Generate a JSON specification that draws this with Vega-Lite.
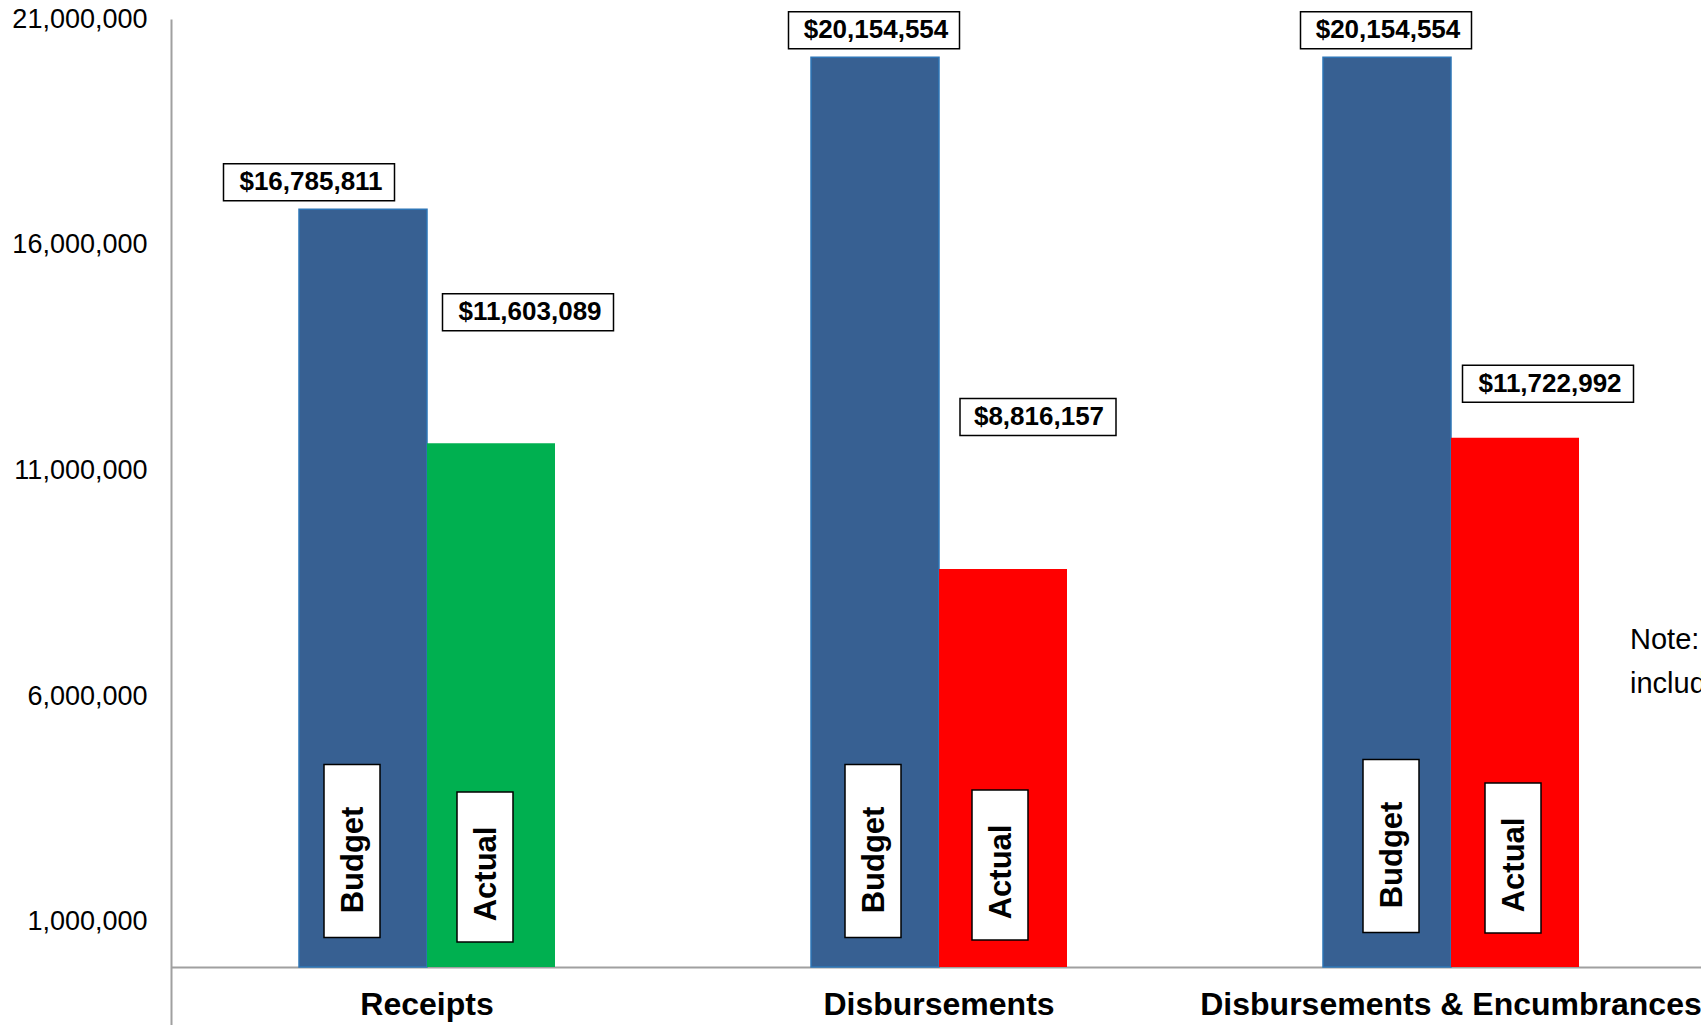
{
  "$schema": "https://vega.github.io/schema/vega-lite/v6.json",
  "autosize": {"type": "none"},
  "padding": {"left": 171, "top": 19, "right": 0, "bottom": 0},
  "width": 1530,
  "height": 1006,
  "background": "white",
  "config": {"view": {"stroke": null}, "font": "Liberation Sans"},
  "data": {"values": [
    {"cat": "Receipts", "series": "Budget", "value": 16785811},
    {"cat": "Receipts", "series": "Actual", "value": 11603089},
    {"cat": "Disbursements", "series": "Budget", "value": 20154554},
    {"cat": "Disbursements", "series": "Actual", "value": 8816157},
    {"cat": "Disbursements & Encumbrances", "series": "Budget", "value": 20154554},
    {"cat": "Disbursements & Encumbrances", "series": "Actual", "value": 11722992}
  ]},
  "encoding": {
    "x": {
      "field": "cat", "type": "nominal",
      "sort": ["Receipts", "Disbursements", "Disbursements & Encumbrances"],
      "scale": {"paddingInner": 0.5, "paddingOuter": 0.25, "range": [0, 1536]},
      "axis": {
        "title": null, "offset": -58, "domain": true, "domainColor": "#A0A0A0", "domainWidth": 2,
        "ticks": false, "tickSize": 0, "labelAngle": 0, "labelPadding": 22,
        "labelFont": "Liberation Sans", "labelFontSize": 32, "labelFontWeight": "bold",
        "labelColor": "black", "labelLimit": 800, "labelOverlap": false
      }
    },
    "y": {
      "field": "value", "type": "quantitative",
      "scale": {"domain": [-1286000, 21000000], "nice": false, "zero": false},
      "axis": {
        "title": null, "values": [1000000, 6000000, 11000000, 16000000, 21000000],
        "format": ",.0f", "grid": false, "ticks": false, "tickSize": 0, "labelPadding": 24,
        "domainColor": "#A0A0A0", "domainWidth": 2,
        "labelFont": "Liberation Sans", "labelFontSize": 27, "labelColor": "black", "labelOverlap": false
      }
    }
  },
  "layer": [
    {
      "mark": {"type": "bar"},
      "encoding": {
        "xOffset": {"field": "series", "type": "nominal", "sort": ["Budget", "Actual"]},
        "y2": {"datum": 0},
        "color": {
          "condition": [
            {"test": "datum.series == 'Budget'", "value": "#376092"},
            {"test": "datum.cat == 'Receipts'", "value": "#00B050"}
          ],
          "value": "#FF0000"
        },
        "stroke": {"condition": {"test": "datum.series == 'Budget'", "value": "#2E75B6"}, "value": "transparent"},
        "strokeWidth": {"condition": {"test": "datum.series == 'Budget'", "value": 1.5}, "value": 0}
      }
    },
    {
      "transform": [{"filter": "datum.series == 'Budget' && datum.cat == 'Receipts'"}],
      "encoding": {"y": {"datum": 0}},
      "layer": [
        {"mark": {"type": "point", "shape": "M-0.3237,-1L0.3237,-1L0.3237,1L-0.3237,1Z", "size": 29929, "filled": true, "fill": "white", "stroke": "black", "strokeWidth": 1.5, "opacity": 1, "xOffset": -75, "yOffset": -116}},
        {"mark": {"type": "text", "text": "Budget", "angle": 270, "align": "center", "baseline": "middle", "font": "Liberation Sans", "fontSize": 31, "fontWeight": "bold", "color": "black", "xOffset": -73, "yOffset": -107}}
      ]
    },
    {
      "transform": [{"filter": "datum.series == 'Budget' && datum.cat == 'Disbursements'"}],
      "encoding": {"y": {"datum": 0}},
      "layer": [
        {"mark": {"type": "point", "shape": "M-0.3237,-1L0.3237,-1L0.3237,1L-0.3237,1Z", "size": 29929, "filled": true, "fill": "white", "stroke": "black", "strokeWidth": 1.5, "opacity": 1, "xOffset": -66, "yOffset": -116}},
        {"mark": {"type": "text", "text": "Budget", "angle": 270, "align": "center", "baseline": "middle", "font": "Liberation Sans", "fontSize": 31, "fontWeight": "bold", "color": "black", "xOffset": -64, "yOffset": -107}}
      ]
    },
    {
      "transform": [{"filter": "datum.series == 'Budget' && datum.cat == 'Disbursements & Encumbrances'"}],
      "encoding": {"y": {"datum": 0}},
      "layer": [
        {"mark": {"type": "point", "shape": "M-0.3237,-1L0.3237,-1L0.3237,1L-0.3237,1Z", "size": 29929, "filled": true, "fill": "white", "stroke": "black", "strokeWidth": 1.5, "opacity": 1, "xOffset": -60, "yOffset": -121}},
        {"mark": {"type": "text", "text": "Budget", "angle": 270, "align": "center", "baseline": "middle", "font": "Liberation Sans", "fontSize": 31, "fontWeight": "bold", "color": "black", "xOffset": -58, "yOffset": -112}}
      ]
    },
    {
      "transform": [{"filter": "datum.series == 'Actual' && datum.cat == 'Receipts'"}],
      "encoding": {"y": {"datum": 0}},
      "layer": [
        {"mark": {"type": "point", "shape": "M-0.3733,-1L0.3733,-1L0.3733,1L-0.3733,1Z", "size": 22500, "filled": true, "fill": "white", "stroke": "black", "strokeWidth": 1.5, "opacity": 1, "xOffset": 58, "yOffset": -100}},
        {"mark": {"type": "text", "text": "Actual", "angle": 270, "align": "center", "baseline": "middle", "font": "Liberation Sans", "fontSize": 31, "fontWeight": "bold", "color": "black", "xOffset": 60, "yOffset": -93}}
      ]
    },
    {
      "transform": [{"filter": "datum.series == 'Actual' && datum.cat == 'Disbursements'"}],
      "encoding": {"y": {"datum": 0}},
      "layer": [
        {"mark": {"type": "point", "shape": "M-0.3733,-1L0.3733,-1L0.3733,1L-0.3733,1Z", "size": 22500, "filled": true, "fill": "white", "stroke": "black", "strokeWidth": 1.5, "opacity": 1, "xOffset": 61, "yOffset": -102}},
        {"mark": {"type": "text", "text": "Actual", "angle": 270, "align": "center", "baseline": "middle", "font": "Liberation Sans", "fontSize": 31, "fontWeight": "bold", "color": "black", "xOffset": 63, "yOffset": -95}}
      ]
    },
    {
      "transform": [{"filter": "datum.series == 'Actual' && datum.cat == 'Disbursements & Encumbrances'"}],
      "encoding": {"y": {"datum": 0}},
      "layer": [
        {"mark": {"type": "point", "shape": "M-0.3733,-1L0.3733,-1L0.3733,1L-0.3733,1Z", "size": 22500, "filled": true, "fill": "white", "stroke": "black", "strokeWidth": 1.5, "opacity": 1, "xOffset": 62, "yOffset": -109}},
        {"mark": {"type": "text", "text": "Actual", "angle": 270, "align": "center", "baseline": "middle", "font": "Liberation Sans", "fontSize": 31, "fontWeight": "bold", "color": "black", "xOffset": 64, "yOffset": -102}}
      ]
    },
    {
      "transform": [{"filter": "datum.cat == 'Receipts' && datum.series == 'Budget'"}],
      "encoding": {"text": {"field": "value", "type": "quantitative", "format": "$,.0f"}},
      "layer": [
        {"mark": {"type": "point", "shape": "M-1,-0.2164L1,-0.2164L1,0.2164L-1,0.2164Z", "size": 29241, "filled": true, "fill": "white", "stroke": "black", "strokeWidth": 1.5, "opacity": 1, "xOffset": -118, "yOffset": -27}},
        {"mark": {"type": "text", "align": "center", "baseline": "middle", "font": "Liberation Sans", "fontSize": 26, "fontWeight": "bold", "color": "black", "xOffset": -116, "yOffset": -27}}
      ]
    },
    {
      "transform": [{"filter": "datum.cat == 'Receipts' && datum.series == 'Actual'"}],
      "encoding": {"text": {"field": "value", "type": "quantitative", "format": "$,.0f"}},
      "layer": [
        {"mark": {"type": "point", "shape": "M-1,-0.2164L1,-0.2164L1,0.2164L-1,0.2164Z", "size": 29241, "filled": true, "fill": "white", "stroke": "black", "strokeWidth": 1.5, "opacity": 1, "xOffset": 101, "yOffset": -131}},
        {"mark": {"type": "text", "align": "center", "baseline": "middle", "font": "Liberation Sans", "fontSize": 26, "fontWeight": "bold", "color": "black", "xOffset": 103, "yOffset": -131}}
      ]
    },
    {
      "transform": [{"filter": "datum.cat == 'Disbursements' && datum.series == 'Budget'"}],
      "encoding": {"text": {"field": "value", "type": "quantitative", "format": "$,.0f"}},
      "layer": [
        {"mark": {"type": "point", "shape": "M-1,-0.2164L1,-0.2164L1,0.2164L-1,0.2164Z", "size": 29241, "filled": true, "fill": "white", "stroke": "black", "strokeWidth": 1.5, "opacity": 1, "xOffset": -65, "yOffset": -27}},
        {"mark": {"type": "text", "align": "center", "baseline": "middle", "font": "Liberation Sans", "fontSize": 26, "fontWeight": "bold", "color": "black", "xOffset": -63, "yOffset": -27}}
      ]
    },
    {
      "transform": [{"filter": "datum.cat == 'Disbursements' && datum.series == 'Actual'"}],
      "encoding": {"text": {"field": "value", "type": "quantitative", "format": "$,.0f"}},
      "layer": [
        {"mark": {"type": "point", "shape": "M-1,-0.2372L1,-0.2372L1,0.2372L-1,0.2372Z", "size": 24336, "filled": true, "fill": "white", "stroke": "black", "strokeWidth": 1.5, "opacity": 1, "xOffset": 99, "yOffset": -152}},
        {"mark": {"type": "text", "align": "center", "baseline": "middle", "font": "Liberation Sans", "fontSize": 26, "fontWeight": "bold", "color": "black", "xOffset": 100, "yOffset": -152}}
      ]
    },
    {
      "transform": [{"filter": "datum.cat == 'Disbursements & Encumbrances' && datum.series == 'Budget'"}],
      "encoding": {"text": {"field": "value", "type": "quantitative", "format": "$,.0f"}},
      "layer": [
        {"mark": {"type": "point", "shape": "M-1,-0.2164L1,-0.2164L1,0.2164L-1,0.2164Z", "size": 29241, "filled": true, "fill": "white", "stroke": "black", "strokeWidth": 1.5, "opacity": 1, "xOffset": -65, "yOffset": -27}},
        {"mark": {"type": "text", "align": "center", "baseline": "middle", "font": "Liberation Sans", "fontSize": 26, "fontWeight": "bold", "color": "black", "xOffset": -63, "yOffset": -27}}
      ]
    },
    {
      "transform": [{"filter": "datum.cat == 'Disbursements & Encumbrances' && datum.series == 'Actual'"}],
      "encoding": {"text": {"field": "value", "type": "quantitative", "format": "$,.0f"}},
      "layer": [
        {"mark": {"type": "point", "shape": "M-1,-0.2164L1,-0.2164L1,0.2164L-1,0.2164Z", "size": 29241, "filled": true, "fill": "white", "stroke": "black", "strokeWidth": 1.5, "opacity": 1, "xOffset": 97, "yOffset": -54}},
        {"mark": {"type": "text", "align": "center", "baseline": "middle", "font": "Liberation Sans", "fontSize": 26, "fontWeight": "bold", "color": "black", "xOffset": 99, "yOffset": -54}}
      ]
    },
    {
      "transform": [{"filter": "datum.cat == 'Disbursements & Encumbrances' && datum.series == 'Budget'"}],
      "mark": {"type": "text", "align": "left", "baseline": "alphabetic", "font": "Liberation Sans", "fontSize": 29, "color": "black", "lineHeight": 44, "xOffset": 179, "yOffset": -2},
      "encoding": {
        "y": {"datum": 7000000},
        "text": {"value": ["Note: Actual figures", "include encumbrances"]}
      }
    }
  ]
}
